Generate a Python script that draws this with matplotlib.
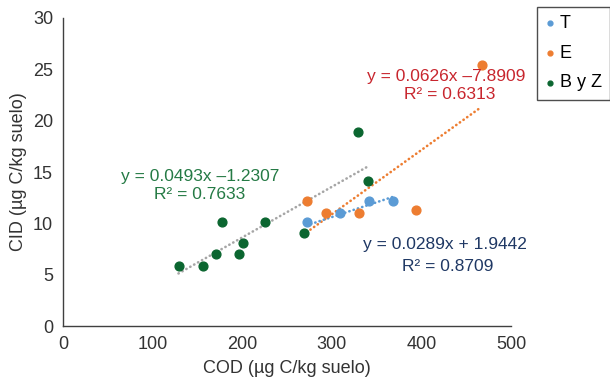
import numpy as np
import matplotlib
matplotlib.use("Agg")
import matplotlib.pyplot as plt

plt.rcParams["font.family"] = ["Liberation Sans", "DejaVu Sans"]

# --- data ---
t_cod = [272, 309, 341, 368]
t_cid = [10.1, 11.0, 12.2, 12.2]

e_cod = [272, 294, 330, 394, 467]
e_cid = [12.2, 11.0, 11.0, 11.3, 25.4]

byz_cod = [129, 156, 171, 177, 197, 201, 226, 269, 329, 340]
byz_cid = [5.9, 5.9, 7.0, 10.1, 7.0, 8.1, 10.1, 9.1, 18.9, 14.1]

# trend lines as printed on the chart: slope, intercept
t_fit = (0.0289, 1.9442)
e_fit = (0.0626, -7.8909)
byz_fit = (0.0493, -1.2307)

BLUE = "#5b9bd5"
ORANGE = "#ed7d31"
GREEN = "#0b6630"
GRAY = "#a6a6a6"
AXIS = "#404040"
FS = 13

fig = plt.figure(figsize=(6.1, 3.81), dpi=100)
ax = fig.add_axes([0.103, 0.144, 0.735, 0.809])


def trend(ax, xs, fit, color):
    x = np.array([min(xs), max(xs)], dtype=float)
    ax.plot(x, fit[0] * x + fit[1], color=color, linewidth=1.9,
            linestyle=(0, (0.1, 1.6)), dash_capstyle="round", zorder=2)


trend(ax, byz_cod, byz_fit, GRAY)
trend(ax, e_cod, e_fit, ORANGE)
trend(ax, t_cod, t_fit, BLUE)

ax.scatter(t_cod, t_cid, s=40, color=BLUE, zorder=3, label="T")
ax.scatter(e_cod, e_cid, s=40, color=ORANGE, zorder=3, label="E")
ax.scatter(byz_cod, byz_cid, s=40, color=GREEN, zorder=4, label="B y Z")

txt = dict(ha="center", va="center", fontsize=12.5)
ax.text(153, 14.55, "y = 0.0493x \u20131.2307", color="#257a45", **txt)
ax.text(153, 12.85, "R\u00b2 = 0.7633", color="#257a45", **txt)
ax.text(427, 24.3, "y = 0.0626x \u20137.8909", color="#c8262e", **txt)
ax.text(431, 22.55, "R\u00b2 = 0.6313", color="#c8262e", **txt)
ax.text(426, 7.95, "y = 0.0289x + 1.9442", color="#1f3864", **txt)
ax.text(429, 5.85, "R\u00b2 = 0.8709", color="#1f3864", **txt)

ax.set_xlim(0, 500)
ax.set_ylim(0, 30)
ax.set_xticks(range(0, 501, 100))
ax.set_yticks(range(0, 31, 5))
ax.tick_params(length=0, labelsize=FS, colors="#333333", pad=7)
for s in ("top", "right"):
    ax.spines[s].set_visible(False)
for s in ("left", "bottom"):
    ax.spines[s].set_color(AXIS)
    ax.spines[s].set_linewidth(1.0)

ax.set_xlabel("COD (\u00b5g C/kg suelo)", fontsize=FS, color="#333333", labelpad=5)
ax.set_ylabel("CID (\u00b5g C/kg suelo)", fontsize=FS, color="#333333", labelpad=4)

leg = fig.legend(loc="upper left", bbox_to_anchor=(537 / 610, 1 - 7 / 381),
                 fontsize=FS, frameon=True, fancybox=False, markerscale=0.55,
                 handlelength=0.5, handletextpad=0.3, labelspacing=0.7,
                 borderpad=0.45, borderaxespad=0)
leg.get_frame().set_edgecolor("#222222")
leg.get_frame().set_linewidth(1.0)

fig.savefig("out.png", dpi=100)
